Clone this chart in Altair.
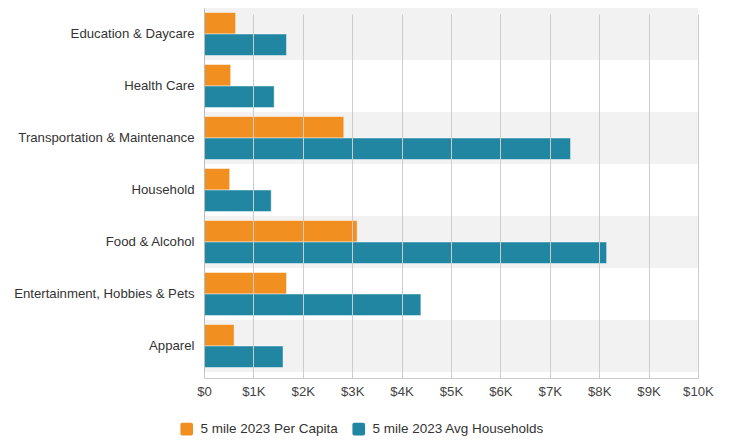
import altair as alt
import pandas as pd

categories = [
    "Education & Daycare",
    "Health Care",
    "Transportation & Maintenance",
    "Household",
    "Food & Alcohol",
    "Entertainment, Hobbies & Pets",
    "Apparel",
]
per_capita = [640, 540, 2830, 520, 3100, 1670, 610]
households = [1670, 1420, 7420, 1360, 8150, 4390, 1600]
series_names = ["5 mile 2023 Per Capita", "5 mile 2023 Avg Households"]
series_colors = ["#F19021", "#2186A2"]
tick_values = list(range(0, 10001, 1000))

rows = []
for c, a, b in zip(categories, per_capita, households):
    rows.append({"category": c, "series": series_names[0], "value": a})
    rows.append({"category": c, "series": series_names[1], "value": b})
df = pd.DataFrame(rows)
bg = pd.DataFrame({"category": [c for i, c in enumerate(categories) if i % 2 == 0]})

W, H = 494, 370
FONT = "Liberation Sans"

yscale = alt.Scale(domain=categories, range=[0, 364], paddingInner=0, paddingOuter=0)

background = alt.Chart(bg).mark_rect(color="#f2f2f2").encode(
    y=alt.Y("category:N", scale=yscale, sort=categories, title=None),
    x=alt.value(0),
    x2=alt.value(W),
)

rounded_sq = "M-0.7,-1H0.7Q1,-1 1,-0.7V0.7Q1,1 0.7,1H-0.7Q-1,1 -1,0.7V-0.7Q-1,-1 -0.7,-1Z"

bars = alt.Chart(df).mark_bar(stroke="white", strokeWidth=1, strokeOpacity=0.45).encode(
    y=alt.Y(
        "category:N",
        scale=yscale,
        sort=categories,
        title=None,
        axis=alt.Axis(
            ticks=False, domain=True, domainColor="#bbbbbb", grid=False,
            labelFont=FONT, labelFontSize=13.2, labelColor="#333333", labelPadding=10,
            labelLimit=300,
        ),
    ),
    yOffset=alt.YOffset("series:N", sort=series_names,
                        scale=alt.Scale(paddingInner=0, paddingOuter=0.21)),
    x=alt.X(
        "value:Q",
        scale=alt.Scale(domain=[0, 10000], nice=False),
        title=None,
        axis=alt.Axis(
            values=tick_values, grid=True, gridColor="#cccccc", gridWidth=1,
            ticks=False, domain=True, domainColor="#cccccc",
            labelFont=FONT, labelFontSize=13.2, labelColor="#444444", labelPadding=7,
            labelFlush=False,
            labelExpr="datum.value == 0 ? '$0' : '$' + (datum.value / 1000) + 'K'",
            zindex=1,
        ),
    ),
    color=alt.Color(
        "series:N",
        scale=alt.Scale(domain=series_names, range=series_colors),
        legend=alt.Legend(
            title=None, orient="none", direction="horizontal",
            legendX=-24, legendY=414,
            symbolType=rounded_sq, symbolSize=160, symbolStrokeWidth=0,
            labelFont=FONT, labelFontSize=13.5, labelColor="#333333",
            labelOffset=7, columnPadding=14, labelLimit=400,
        ),
    ),
)

chart = alt.layer(background, bars).properties(
    width=W,
    height=H,
    autosize=alt.AutoSizeParams(type="none"),
    padding={"left": 196, "top": 0, "right": 24, "bottom": 58},
).configure_view(stroke=None)

chart.save("out.html", embed_options={"renderer": "svg", "actions": False})
